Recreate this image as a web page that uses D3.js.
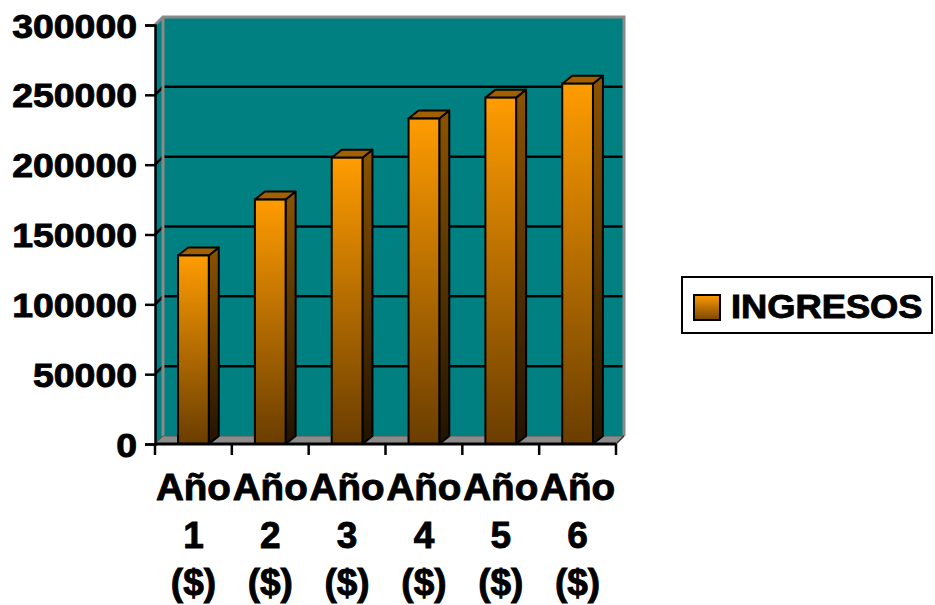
<!DOCTYPE html>
<html>
<head>
<meta charset="utf-8">
<script src="https://cdn.jsdelivr.net/npm/d3@7"></script>
<style>
  html, body { margin: 0; padding: 0; background: #fff; }
  svg { display: block; }
  text { font-family: "Liberation Sans", Arial, sans-serif; font-weight: bold; fill: #000; stroke: #000; stroke-width: 0.9px; }
</style>
</head>
<body>
<svg id="chart" width="935" height="605"></svg>
<script>
// Ingresos por año
const categories = ["Año 1 ($)", "Año 2 ($)", "Año 3 ($)", "Año 4 ($)", "Año 5 ($)", "Año 6 ($)"];
const categoryLines = [["Año", "1", "($)"], ["Año", "2", "($)"], ["Año", "3", "($)"],
                       ["Año", "4", "($)"], ["Año", "5", "($)"], ["Año", "6", "($)"]];
const ingresos = [135000, 175000, 205000, 233000, 248000, 258000];
const yTicks = [0, 50000, 100000, 150000, 200000, 250000, 300000];
const seriesName = "INGRESOS";

const svg = d3.select("#chart");
const defs = svg.append("defs");

// Front plane of the 3D box and the depth offset of the walls / bars
const x = d3.scaleBand().domain(categories).range([155, 616]).paddingInner(0.6).paddingOuter(0.3);
const xEdge = d3.scaleBand().domain(categories).range([155, 616]);
const y = d3.scaleLinear().domain([0, 300000]).range([444, 25]);
const wallDx = 8, wallDy = -8;
const barDx = 10, barDy = -8;

const teal = "#008080";
const wallEdge = "#8a8a8a";

// Gradients for the column faces
function grad(id, c0, c1) {
  const g = defs.append("linearGradient").attr("id", id)
    .attr("x1", 0).attr("y1", 0).attr("x2", 0).attr("y2", 1);
  g.append("stop").attr("offset", "0%").attr("stop-color", c0);
  g.append("stop").attr("offset", "100%").attr("stop-color", c1);
}
grad("gFront", "#ff9c00", "#6a3d00");
grad("gSide", "#8c5300", "#211300");
grad("gLegend", "#ff9c00", "#7a4600");

const x0 = xEdge.range()[0], x1 = xEdge.range()[1];
const yTop = y(300000), yBase = y(0);

// Back wall
svg.append("rect")
  .attr("x", x0 + wallDx).attr("y", yTop + wallDy)
  .attr("width", x1 - x0).attr("height", yBase - yTop)
  .attr("fill", teal);
// Left side wall
svg.append("polygon")
  .attr("points", [[x0, yTop], [x0 + wallDx, yTop + wallDy], [x0 + wallDx, yBase + wallDy], [x0, yBase]].join(" "))
  .attr("fill", teal);

// Gridlines on the back and side walls
const grid = svg.append("g").attr("stroke", "#000").attr("stroke-width", 2.5).attr("fill", "none");
yTicks.filter(v => v > 0 && v < 300000).forEach(v => {
  grid.append("polyline")
    .attr("points", [[x0, y(v)], [x0 + wallDx, y(v) + wallDy], [x1 + wallDx, y(v) + wallDy]].join(" "));
});

// Wall edges
const edges = svg.append("g").attr("stroke", wallEdge).attr("stroke-width", 3).attr("fill", "none");
edges.append("polyline")
  .attr("points", [[x0, yTop], [x0 + wallDx, yTop + wallDy], [x1 + wallDx, yTop + wallDy], [x1 + wallDx, yBase + wallDy]].join(" "));
edges.append("line")
  .attr("x1", x0 + wallDx).attr("y1", yTop + wallDy)
  .attr("x2", x0 + wallDx).attr("y2", yBase + wallDy);

// Floor
svg.append("polygon")
  .attr("points", [[x0, yBase], [x1, yBase], [x1 + wallDx, yBase + wallDy], [x0 + wallDx, yBase + wallDy]].join(" "))
  .attr("fill", "#8c8c8c").attr("stroke", "#5a5a5a").attr("stroke-width", 1);

// Columns
const bars = svg.append("g").selectAll("g").data(categories).join("g");
bars.each(function (c, i) {
  const g = d3.select(this);
  const bx = x(c), bw = x.bandwidth(), top = y(ingresos[i]), bot = y(0);
  // side face
  g.append("polygon")
    .attr("points", [[bx + bw, top], [bx + bw + barDx, top + barDy], [bx + bw + barDx, bot + barDy], [bx + bw, bot]].join(" "))
    .attr("fill", "url(#gSide)").attr("stroke", "#000").attr("stroke-width", 2).attr("stroke-linejoin", "round");
  // top face
  g.append("polygon")
    .attr("points", [[bx, top], [bx + barDx, top + barDy], [bx + bw + barDx, top + barDy], [bx + bw, top]].join(" "))
    .attr("fill", "#a36000").attr("stroke", "#000").attr("stroke-width", 2).attr("stroke-linejoin", "round");
  // front face
  g.append("rect")
    .attr("x", bx).attr("y", top).attr("width", bw).attr("height", bot - top)
    .attr("fill", "url(#gFront)").attr("stroke", "#000").attr("stroke-width", 2);
});

// Y axis
const yAxis = svg.append("g").attr("transform", `translate(${x0},0)`)
  .call(d3.axisLeft(y).tickValues(yTicks).tickSize(10).tickPadding(6).tickFormat(d3.format("d")));
yAxis.select(".domain").attr("stroke", "#000").attr("stroke-width", 2.5);
yAxis.selectAll(".tick line").attr("stroke", "#000").attr("stroke-width", 2.5);
yAxis.selectAll(".tick text")
  .attr("font-size", 34).attr("font-family", null).attr("fill", "#000")
  .attr("dy", null).attr("x", 0).attr("y", 12)
  .attr("transform", "translate(-18,0) scale(1.1,1)");

// X axis baseline and tick marks at category boundaries
const xAxis = svg.append("g");
xAxis.append("line").attr("x1", x0).attr("x2", x1).attr("y1", yBase).attr("y2", yBase)
  .attr("stroke", "#000").attr("stroke-width", 3);
xAxis.append("line").attr("x1", x1).attr("y1", yBase).attr("x2", x1 + wallDx).attr("y2", yBase + wallDy)
  .attr("stroke", "#333").attr("stroke-width", 1.5);
const boundaries = categories.map(c => xEdge(c)).concat([x1]);
xAxis.selectAll(".xtick").data(boundaries).join("line").attr("class", "xtick")
  .attr("x1", d => d).attr("x2", d => d).attr("y1", yBase).attr("y2", yBase + 11)
  .attr("stroke", "#000").attr("stroke-width", 2.5);

// Category labels, three lines each
const lineY = [500, 548, 595];
const labels = xAxis.selectAll(".xlabel").data(categories).join("text").attr("class", "xlabel")
  .attr("text-anchor", "middle").attr("font-size", 37)
  .attr("transform", c => `translate(${xEdge(c) + xEdge.bandwidth() / 2},0)`);
labels.each(function (c, i) {
  const t = d3.select(this);
  categoryLines[i].forEach((s, k) => {
    const ts = t.append("tspan").attr("x", 0).attr("y", lineY[k]).text(s);
    if (k === 0) ts.attr("textLength", 75).attr("lengthAdjust", "spacingAndGlyphs");
  });
});

// Legend
const legend = svg.append("g");
legend.append("rect").attr("x", 682).attr("y", 277).attr("width", 250).attr("height", 56)
  .attr("fill", "#fff").attr("stroke", "#000").attr("stroke-width", 2);
legend.append("rect").attr("x", 694).attr("y", 295).attr("width", 26).attr("height", 25)
  .attr("fill", "url(#gLegend)").attr("stroke", "#000").attr("stroke-width", 2);
legend.append("text").attr("x", 0).attr("y", 0).attr("font-size", 33)
  .attr("transform", "translate(731,318) scale(1.1,1)")
  .text(seriesName);
</script>
</body>
</html>
